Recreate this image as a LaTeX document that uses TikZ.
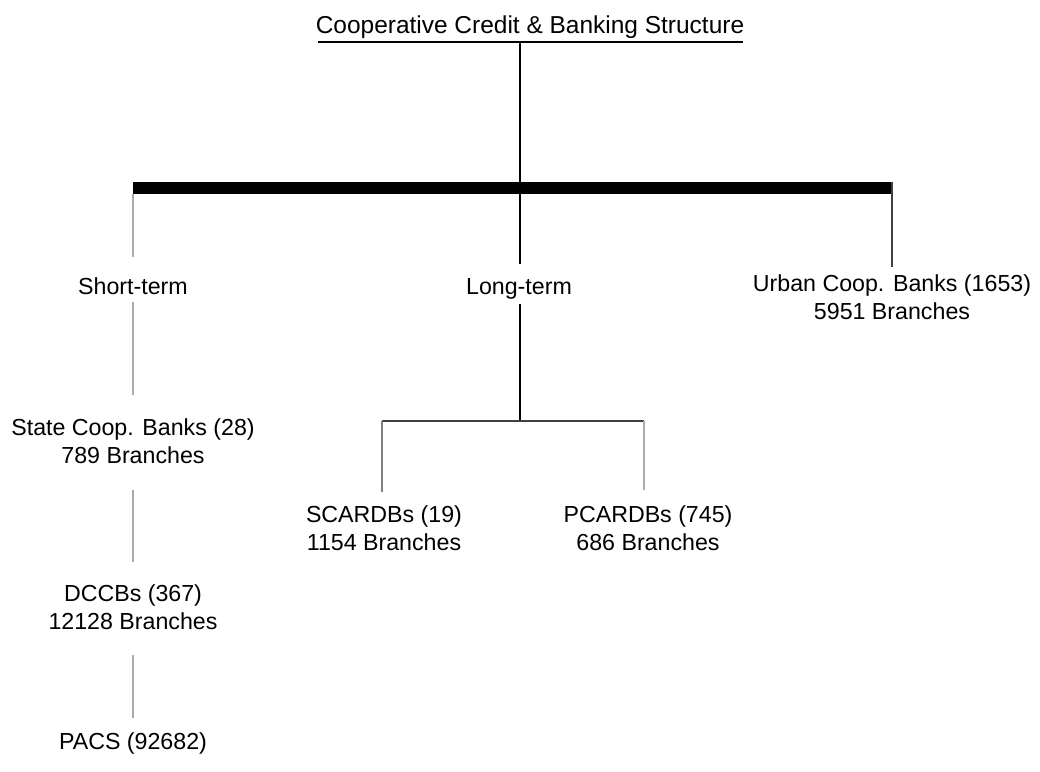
\documentclass[tikz,border=0pt]{standalone}
\usepackage{fontspec}
\setmainfont{Liberation Sans}
\begin{document}
\begin{tikzpicture}[x=0.025cm,y=-0.025cm,
  lbl/.style={font=\fontsize{16.5}{19.5}\selectfont, inner sep=0pt, align=center},
  mainline/.style={line width=1.3pt, black},
  faint/.style={line width=0.8pt, black!33},
  subline/.style={line width=0.8pt, black!50},
  midline/.style={line width=1pt, black!75},
  thickbar/.style={line width=8.5pt, black}]
\useasboundingbox (0,0) rectangle (1040,771);
% text nodes
\node[lbl, font=\fontsize{17.4}{20}\selectfont, anchor=base] (title) at (530,33) {Cooperative Credit \& Banking Structure};
\node[lbl, anchor=base] (short) at (133,294) {Short-term};
\node[lbl, anchor=base] (long) at (519,294) {Long-term};
\node[lbl] (urban) at (892,297) {Urban Coop. Banks (1653)\\5951 Branches};
\node[lbl] (scb) at (133,441) {State Coop. Banks (28)\\789 Branches};
\node[lbl] (dccb) at (133,607) {DCCBs (367)\\12128 Branches};
\node[lbl] (pacs) at (133,743) {PACS (92682)};
\node[lbl] (scardb) at (384,528) {SCARDBs (19)\\1154 Branches};
\node[lbl] (pcardb) at (648,528) {PCARDBs (745)\\686 Branches};
% coordinates
\coordinate (ulL) at (318,42);
\coordinate (ulR) at (743,42);
\coordinate (ulM) at (520,42);
\coordinate (barL) at (133,188);
\coordinate (barR) at (892,188);
\coordinate (barLb) at (133,194);
\coordinate (barRt) at (892,182);
\coordinate (longTop) at (520,264);
\coordinate (shortTop) at (133,257);
\coordinate (urbanTop) at (892,267);
\coordinate (shortBot) at (133,302);
\coordinate (scbTop) at (133,395);
\coordinate (scbBot) at (133,490);
\coordinate (dccbTop) at (133,562);
\coordinate (dccbBot) at (133,655);
\coordinate (pacsTop) at (133,718);
\coordinate (longBot) at (520,304);
\coordinate (subM) at (520,421);
\coordinate (subL) at (382,421);
\coordinate (subR) at (644,421);
\coordinate (scardbTop) at (382,492);
\coordinate (pcardbTop) at (644,490);
% lines
\draw[line width=0.9pt] (ulL) -- (ulR);
\draw[thickbar] (barL) -- (barR);
\draw[mainline] (ulM) -- (longTop);
\draw[faint] (barLb) -- (shortTop);
\draw[midline] (barRt) -- (urbanTop);
\draw[faint] (shortBot) -- (scbTop);
\draw[faint] (scbBot) -- (dccbTop);
\draw[faint] (dccbBot) -- (pacsTop);
\draw[mainline] (longBot) -- (subM);
\draw[midline] (subL) -- (subR);
\draw[subline] (subL) -- (scardbTop);
\draw[faint] (subR) -- (pcardbTop);
\end{tikzpicture}
\end{document}
